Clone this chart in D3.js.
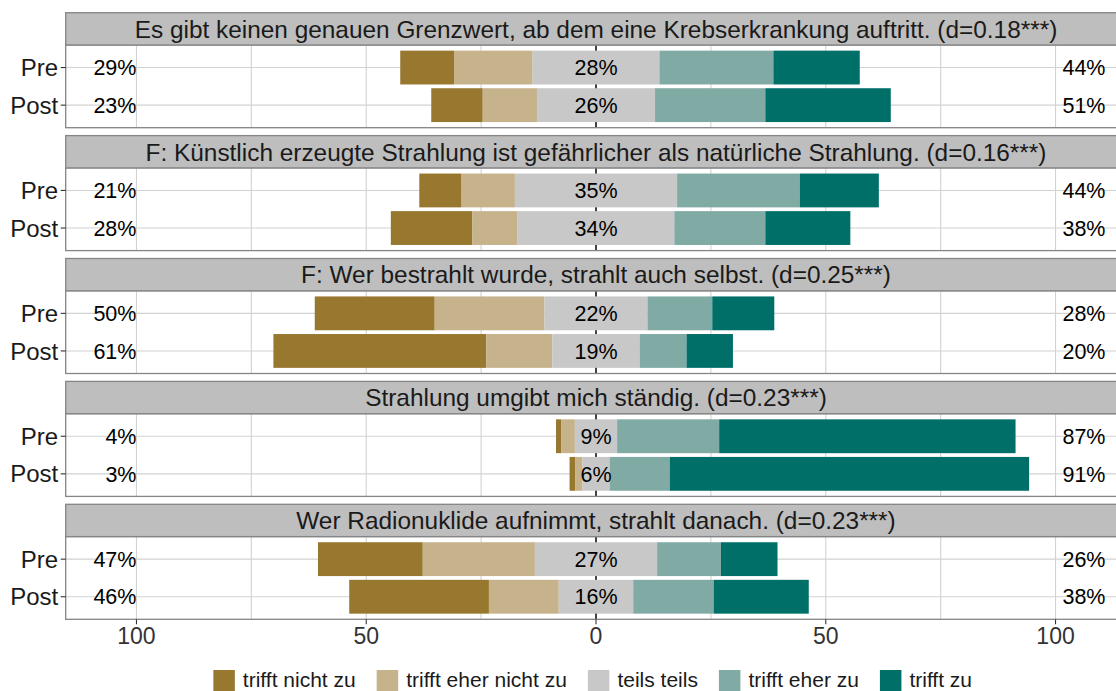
<!DOCTYPE html>
<html>
<head>
<meta charset="utf-8">
<script src="https://cdn.jsdelivr.net/npm/d3@7"></script>
<style>
  html, body { margin: 0; padding: 0; background: #ffffff; }
  svg { display: block; font-family: "Liberation Sans", Arial, Helvetica, sans-serif; }
</style>
</head>
<body>
<svg id="chart" width="1116" height="691"></svg>
<script>
// Statements (one facet each)
const items = [
  "Es gibt keinen genauen Grenzwert, ab dem eine Krebserkrankung auftritt. (d=0.18***)",
  "F: Künstlich erzeugte Strahlung ist gefährlicher als natürliche Strahlung. (d=0.16***)",
  "F: Wer bestrahlt wurde, strahlt auch selbst. (d=0.25***)",
  "Strahlung umgibt mich ständig. (d=0.23***)",
  "Wer Radionuklide aufnimmt, strahlt danach. (d=0.23***)"
];
const periods = ["Pre", "Post"];
const levels = ["trifft nicht zu", "trifft eher nicht zu", "teils teils", "trifft eher zu", "trifft zu"];
const levelColors = ["#98772f", "#c6b28b", "#c8c8c8", "#80aaa4", "#006f68"];

// Percent per response level; order: item1 Pre, item1 Post, item2 Pre, ...
const trifftNichtZu     = [11.7, 11.2,  9.2, 17.7, 26.1, 46.3,  1.1,  1.2, 22.8, 30.4];
const trifftEherNichtZu = [17.1, 11.8, 11.6,  9.9, 23.9, 14.4,  3.0,  1.6, 24.4, 15.2];
const teilsTeils        = [27.6, 25.7, 35.3, 34.1, 22.4, 19.0,  9.2,  5.9, 26.6, 16.2];
const trifftEherZu      = [24.8, 24.0, 26.7, 19.8, 14.1, 10.2, 22.2, 13.1, 13.9, 17.5];
const trifftZu          = [18.8, 27.3, 17.2, 18.5, 13.5, 10.1, 64.5, 78.2, 12.3, 20.7];

const xTicks = [-100, -50, 0, 50, 100];
const xMinor = [-75, -25, 25, 75];

const series = [trifftNichtZu, trifftEherNichtZu, teilsTeils, trifftEherZu, trifftZu];

// Build rows with stacked segments centred on the neutral category
const rows = [];
items.forEach((item, i) => {
  periods.forEach((p, j) => {
    const k = i * 2 + j;
    const v = series.map(s => s[k]);
    const half = v[2] / 2;
    const segs = [];
    let left = -half - v[1] - v[0];
    v.forEach((val, li) => {
      segs.push({ level: li, x0: left, x1: left + val });
      left += val;
    });
    rows.push({
      item: i, period: p, segs,
      low: v[0] + v[1], neutral: v[2], high: v[3] + v[4]
    });
  });
});

const svg = d3.select("#chart");

const x = d3.scaleLinear().domain([-115.4, 115.4]).range([65.7, 1126.3]);
const panelLeft = x.range()[0], panelRight = x.range()[1];

const panelTop0 = 12.7, panelPitch = 122.9, stripH = 32.3, bodyH = 82.7;
const y = d3.scaleBand().domain(periods).range([0, bodyH]).paddingInner(0.1).paddingOuter(0.15);

const pct = v => Math.round(v) + "%";
const gridColor = "#d2d2d2";
const labelSize = 21.5;

items.forEach((item, i) => {
  const top = panelTop0 + i * panelPitch;
  const bodyTop = top + stripH;
  const g = svg.append("g").attr("transform", `translate(0,${bodyTop})`);

  // panel background
  g.append("rect").attr("x", panelLeft).attr("y", 0)
    .attr("width", panelRight - panelLeft).attr("height", bodyH).attr("fill", "#ffffff");

  // vertical grid lines (minor + major)
  g.selectAll("line.vminor").data(xMinor).join("line")
    .attr("x1", d => x(d)).attr("x2", d => x(d)).attr("y1", 0).attr("y2", bodyH)
    .attr("stroke", gridColor).attr("stroke-width", 1.1);
  g.selectAll("line.vmajor").data(xTicks).join("line")
    .attr("x1", d => x(d)).attr("x2", d => x(d)).attr("y1", 0).attr("y2", bodyH)
    .attr("stroke", gridColor).attr("stroke-width", 1.1);

  // horizontal grid lines at each period
  g.selectAll("line.h").data(periods).join("line")
    .attr("x1", panelLeft).attr("x2", panelRight)
    .attr("y1", d => y(d) + y.bandwidth() / 2).attr("y2", d => y(d) + y.bandwidth() / 2)
    .attr("stroke", gridColor).attr("stroke-width", 1.1);

  // zero reference line
  g.append("line").attr("x1", x(0)).attr("x2", x(0)).attr("y1", 0).attr("y2", bodyH)
    .attr("stroke", "#1a1a1a").attr("stroke-width", 1.6);

  const prow = rows.filter(r => r.item === i);

  // stacked bars
  prow.forEach(r => {
    g.selectAll(null).data(r.segs).join("rect")
      .attr("x", d => x(d.x0))
      .attr("width", d => x(d.x1) - x(d.x0))
      .attr("y", y(r.period))
      .attr("height", y.bandwidth())
      .attr("fill", d => levelColors[d.level]);
  });

  // percentage labels
  prow.forEach(r => {
    const cy = y(r.period) + y.bandwidth() / 2;
    g.append("text").attr("x", x(-100)).attr("y", cy).attr("dy", "0.36em")
      .attr("text-anchor", "end").attr("font-size", labelSize).attr("fill", "#000")
      .text(pct(r.low));
    g.append("text").attr("x", x(0)).attr("y", cy).attr("dy", "0.36em")
      .attr("text-anchor", "middle").attr("font-size", labelSize).attr("fill", "#000")
      .text(pct(r.neutral));
    g.append("text").attr("x", x(101.5)).attr("y", cy).attr("dy", "0.36em")
      .attr("text-anchor", "start").attr("font-size", labelSize).attr("fill", "#000")
      .text(pct(r.high));
  });

  // panel border
  g.append("rect").attr("x", panelLeft).attr("y", 0)
    .attr("width", panelRight - panelLeft).attr("height", bodyH)
    .attr("fill", "none").attr("stroke", "#858585").attr("stroke-width", 1.3);

  // y axis ticks and labels
  g.selectAll("line.ytick").data(periods).join("line")
    .attr("x1", panelLeft - 5).attr("x2", panelLeft)
    .attr("y1", d => y(d) + y.bandwidth() / 2).attr("y2", d => y(d) + y.bandwidth() / 2)
    .attr("stroke", "#333").attr("stroke-width", 1.1);
  g.selectAll("text.ylab").data(periods).join("text")
    .attr("x", panelLeft - 7.5).attr("y", d => y(d) + y.bandwidth() / 2).attr("dy", "0.36em")
    .attr("text-anchor", "end").attr("font-size", 24).attr("fill", "#1a1a1a")
    .text(d => d);

  // strip
  svg.append("rect").attr("x", panelLeft).attr("y", top)
    .attr("width", panelRight - panelLeft).attr("height", stripH)
    .attr("fill", "#bebebe").attr("stroke", "#858585").attr("stroke-width", 1.3);
  svg.append("text").attr("x", (panelLeft + panelRight) / 2).attr("y", top + stripH / 2).attr("dy", "0.36em")
    .attr("text-anchor", "middle").attr("font-size", 24.4).attr("fill", "#1a1a1a")
    .text(item);
});

// bottom axis
const lastBottom = panelTop0 + 4 * panelPitch + stripH + bodyH;
const axis = svg.append("g").attr("transform", `translate(0,${lastBottom})`);
axis.selectAll("line").data(xTicks).join("line")
  .attr("x1", d => x(d)).attr("x2", d => x(d)).attr("y1", 0).attr("y2", 5)
  .attr("stroke", "#333").attr("stroke-width", 1.1);
axis.selectAll("text").data(xTicks).join("text")
  .attr("x", d => x(d)).attr("y", 24.5)
  .attr("text-anchor", "middle").attr("font-size", 23).attr("fill", "#333")
  .text(d => Math.abs(d));

// legend
const legend = svg.append("g");
const keySize = 21.5, keyGap = 8, itemGap = 21;
const fs = 21;
let lx = 0;
const entries = [];
levels.forEach((lab, li) => {
  const t = legend.append("text").attr("font-size", fs).attr("fill", "#1a1a1a")
    .attr("y", 687).text(lab);
  const w = t.node().getComputedTextLength();
  entries.push({ t, li, x: lx, w });
  lx += keySize + keyGap + w + itemGap;
});
const totalW = lx - itemGap;
const startX = 592.7 - totalW / 2;
entries.forEach(e => {
  legend.append("rect").attr("x", startX + e.x).attr("y", 670)
    .attr("width", keySize).attr("height", keySize).attr("fill", levelColors[e.li]);
  e.t.attr("x", startX + e.x + keySize + keyGap);
});
</script>
</body>
</html>
